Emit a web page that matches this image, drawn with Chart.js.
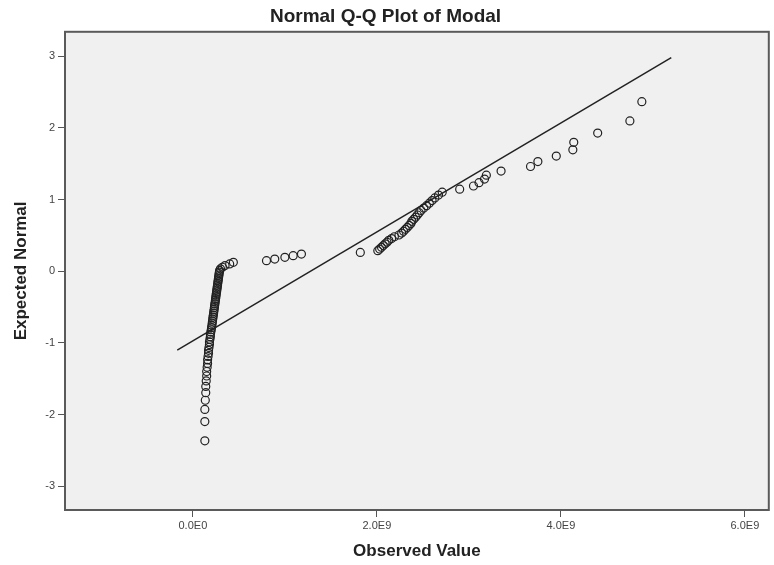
<!DOCTYPE html>
<html>
<head>
<meta charset="utf-8">
<script src="https://cdn.jsdelivr.net/npm/chart.js@4/dist/chart.umd.min.js"></script>
<style>
  html, body { margin: 0; padding: 0; background: #fff; }
  #grafico { display: block; }
</style>
</head>
<body>
<canvas id="grafico" width="774" height="565"></canvas>
<script>
// observed values of Modal, in units of 1E9
const observado = [
  0.13, 0.13, 0.13, 0.135, 0.14, 0.14, 0.145, 0.15, 0.15, 0.155,
  0.16, 0.16, 0.165, 0.17, 0.17, 0.175, 0.18, 0.18, 0.185, 0.19,
  0.19, 0.195, 0.200, 0.203, 0.207, 0.210, 0.213, 0.216, 0.219, 0.222,
  0.225, 0.228, 0.231, 0.234, 0.236, 0.239, 0.242, 0.245, 0.247, 0.250,
  0.252, 0.255, 0.258, 0.260, 0.263, 0.265, 0.268, 0.270, 0.273, 0.275,
  0.278, 0.280, 0.283, 0.285, 0.288, 0.290, 0.30, 0.32, 0.35, 0.40,
  0.44, 0.80, 0.89, 1.00, 1.09, 1.18, 1.82, 2.01, 2.03, 2.05,
  2.07, 2.09, 2.11, 2.13, 2.16, 2.19, 2.24, 2.27, 2.29, 2.31,
  2.33, 2.35, 2.37, 2.38, 2.40, 2.42, 2.44, 2.46, 2.48, 2.51,
  2.54, 2.57, 2.60, 2.63, 2.67, 2.71, 2.90, 3.05, 3.11, 3.17,
  3.19, 3.35, 3.67, 3.75, 3.95, 4.13, 4.14, 4.40, 4.75, 4.88
];

// expected normal values
const esperado = [
  -2.365, -2.097, -1.927, -1.799, -1.694, -1.607, -1.530, -1.461, -1.398, -1.340,
  -1.286, -1.236, -1.189, -1.145, -1.103, -1.062, -1.023, -0.986, -0.950, -0.915,
  -0.881, -0.848, -0.816, -0.785, -0.755, -0.725, -0.696, -0.667, -0.639, -0.612,
  -0.585, -0.558, -0.532, -0.506, -0.481, -0.456, -0.431, -0.406, -0.382, -0.358,
  -0.334, -0.310, -0.287, -0.263, -0.240, -0.217, -0.194, -0.170, -0.148, -0.125,
  -0.102, -0.079, -0.056, -0.034, -0.011, 0.011, 0.034, 0.056, 0.079, 0.102,
  0.125, 0.148, 0.170, 0.194, 0.217, 0.240, 0.263, 0.287, 0.310, 0.334,
  0.358, 0.382, 0.406, 0.431, 0.456, 0.481, 0.506, 0.532, 0.558, 0.585,
  0.612, 0.639, 0.667, 0.696, 0.725, 0.755, 0.785, 0.816, 0.848, 0.881,
  0.915, 0.950, 0.986, 1.023, 1.062, 1.103, 1.145, 1.189, 1.236, 1.286,
  1.340, 1.398, 1.461, 1.530, 1.607, 1.694, 1.799, 1.927, 2.097, 2.365
];

// reference line end points
const lineaX = [-0.17, 5.20];
const lineaY = [-1.10, 2.98];

// axis ticks
const ticksX = [0, 2, 4, 6];
const etiquetasX = ['0.0E0', '2.0E9', '4.0E9', '6.0E9'];
const ticksY = [-3, -2, -1, 0, 1, 2, 3];

const puntos = observado.map((x, i) => ({ x, y: esperado[i] }));
const linea = lineaX.map((x, i) => ({ x, y: lineaY[i] }));

const fondoPlot = {
  id: 'fondoPlot',
  beforeDraw(chart) {
    const { ctx, chartArea: a } = chart;
    ctx.save();
    ctx.fillStyle = '#f0f0f0';
    ctx.fillRect(a.left, a.top, a.right - a.left, a.bottom - a.top);
    ctx.restore();
  },
  afterDraw(chart) {
    const { ctx, chartArea: a } = chart;
    ctx.save();
    ctx.strokeStyle = '#5a5a5a';
    ctx.lineWidth = 2;
    ctx.strokeRect(a.left, a.top, a.right - a.left, a.bottom - a.top);
    ctx.restore();
  }
};

Chart.defaults.font.family = '"Liberation Sans", Arial, sans-serif';
Chart.defaults.color = '#222';

new Chart(document.getElementById('grafico').getContext('2d'), {
  type: 'scatter',
  data: {
    datasets: [
      {
        type: 'line',
        data: linea,
        borderColor: '#222',
        borderWidth: 1.5,
        pointRadius: 0,
        fill: false
      },
      {
        data: puntos,
        pointStyle: 'circle',
        pointRadius: 4,
        pointBorderWidth: 1.2,
        pointBorderColor: '#222',
        pointBackgroundColor: 'rgba(0,0,0,0)'
      }
    ]
  },
  options: {
    responsive: false,
    animation: false,
    layout: { padding: { left: 0, right: 3, top: 0, bottom: 0 } },
    plugins: {
      legend: { display: false },
      tooltip: { enabled: false },
      title: {
        display: true,
        text: 'Normal Q-Q Plot of Modal',
        font: { size: 19, weight: 'bold' },
        color: '#222',
        padding: { top: 5, bottom: 4 }
      }
    },
    scales: {
      x: {
        type: 'linear',
        min: -1.39,
        max: 6.26,
        afterBuildTicks: s => { s.ticks = ticksX.map(v => ({ value: v })); },
        afterFit: s => { s.height = 55; },
        grid: { drawOnChartArea: false, drawTicks: true, tickLength: 7, color: '#555' },
        border: { display: false },
        ticks: {
          padding: 2,
          color: '#444',
          font: { size: 11 },
          maxRotation: 0,
          callback: v => etiquetasX[ticksX.indexOf(v)]
        },
        title: {
          display: true,
          text: 'Observed Value',
          font: { size: 17, weight: 'bold' },
          color: '#222',
          padding: { top: 0, bottom: 3 }
        }
      },
      y: {
        type: 'linear',
        min: -3.33,
        max: 3.34,
        afterBuildTicks: s => { s.ticks = ticksY.map(v => ({ value: v })); },
        afterFit: s => { s.width = 65; },
        grid: { drawOnChartArea: false, drawTicks: true, tickLength: 7, color: '#555' },
        border: { display: false },
        ticks: {
          padding: 3,
          color: '#444',
          font: { size: 11 }
        },
        title: {
          display: true,
          text: 'Expected Normal',
          font: { size: 17, weight: 'bold' },
          color: '#222',
          padding: { top: 11, bottom: 0 }
        }
      }
    }
  },
  plugins: [fondoPlot]
});
</script>
</body>
</html>
